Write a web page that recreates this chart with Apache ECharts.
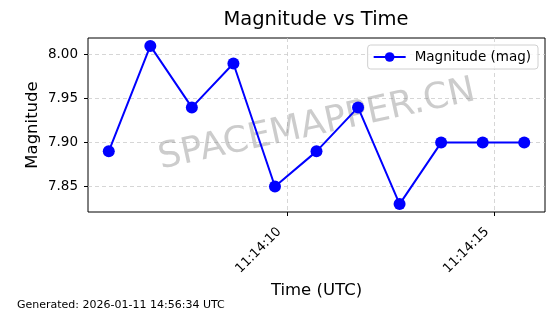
<!DOCTYPE html>
<html>
<head>
<meta charset="utf-8">
<script src="https://cdn.jsdelivr.net/npm/echarts@6/dist/echarts.min.js"></script>
<style>html,body{margin:0;padding:0;background:#fff;}#c{width:560px;height:314px;}</style>
</head>
<body>
<div id="c"></div>
<script>
// Data
const times = ['11:14:05.71','11:14:06.71','11:14:07.71','11:14:08.71','11:14:09.71','11:14:10.71','11:14:11.71','11:14:12.71','11:14:13.71','11:14:14.71','11:14:15.71'];
const magnitudes = [7.89, 8.01, 7.94, 7.99, 7.85, 7.89, 7.94, 7.83, 7.90, 7.90, 7.90];
const xTickLabels = ['11:14:10', '11:14:15'];
const yTickValues = [7.85, 7.90, 7.95, 8.00];

function toSec(s){ const p = s.split(':'); return (+p[0])*3600 + (+p[1])*60 + parseFloat(p[2]); }
function fmt(sec){ const r = Math.round(sec); const h = Math.floor(r/3600), m = Math.floor((r%3600)/60), s = r%60;
  const pad = v => String(v).padStart(2,'0'); return pad(h)+':'+pad(m)+':'+pad(s); }

const xs = times.map(toSec);
const xMinD = Math.min(...xs), xMaxD = Math.max(...xs), xPad = (xMaxD - xMinD)*0.05;
const yMinD = Math.min(...magnitudes), yMaxD = Math.max(...magnitudes), yPad = (yMaxD - yMinD)*0.05;
const xTickValues = xTickLabels.map(toSec);

const FONT = 'DejaVu Sans';
const chart = echarts.init(document.getElementById('c'), null, {renderer: 'canvas'});
chart.setOption({
  animation: false,
  backgroundColor: '#fff',
  grid: {left: 88, right: 15, top: 38, bottom: 102, show: true, borderColor: '#000', borderWidth: 1, backgroundColor: 'transparent'},
  legend: {
    right: 22, top: 45, orient: 'horizontal',
    backgroundColor: 'rgba(255,255,255,0.8)', borderColor: '#d0d0d0', borderWidth: 1, borderRadius: 3,
    padding: [5, 7, 5, 5], itemWidth: 32, itemHeight: 12,
    textStyle: {fontFamily: FONT, fontSize: 13.5, color: '#000', padding: [0, 0, 0, 4]},
    data: ['Magnitude (mag)']
  },
  xAxis: {
    type: 'value', min: xMinD - xPad, max: xMaxD + xPad,
    name: 'Time (UTC)', nameLocation: 'middle', nameGap: 70, nameMoveOverlap: false,
    nameTextStyle: {fontFamily: FONT, fontSize: 16.5, color: '#000'},
    axisLine: {show: false},
    axisTick: {show: true, length: 4, lineStyle: {color: '#000'}, customValues: xTickValues},
    axisLabel: {rotate: 45, fontFamily: FONT, fontSize: 13, color: '#000', margin: 10, padding: [0, 11, 0, 0],
      customValues: xTickValues, formatter: v => fmt(v)},
    splitLine: {show: true, lineStyle: {color: '#cccccc', type: [4, 3], width: 0.8}}
  },
  yAxis: {
    type: 'value', min: yMinD - yPad, max: yMaxD + yPad,
    name: 'Magnitude', nameLocation: 'middle', nameGap: 47, nameMoveOverlap: false,
    nameTextStyle: {fontFamily: FONT, fontSize: 16.5, color: '#000'},
    axisLine: {show: false},
    axisTick: {show: true, length: 4, lineStyle: {color: '#000'}, customValues: yTickValues},
    axisLabel: {fontFamily: FONT, fontSize: 13.5, color: '#000', margin: 10,
      customValues: yTickValues, formatter: v => v.toFixed(2)},
    splitLine: {show: true, lineStyle: {color: '#cccccc', type: [4, 3], width: 0.8}}
  },
  graphic: [
    {type: 'text', x: 316, y: 9.5, style: {text: 'Magnitude vs Time', fontFamily: FONT, fontSize: 19.5, fill: '#000', align: 'center', verticalAlign: 'top'}},
    {type: 'text', left: 17, top: 299.5, style: {text: 'Generated: 2026-01-11 14:56:34 UTC', fontFamily: FONT, fontSize: 11, fill: '#000'}},
    {type: 'text', x: 317, y: 125, rotation: 12.3 * Math.PI / 180, z: 1,
      style: {text: 'SPACEMAPPER.CN', fontFamily: FONT, fontSize: 36, fill: 'rgba(128,128,128,0.4)', align: 'center', verticalAlign: 'middle'}}
  ],
  series: [{
    name: 'Magnitude (mag)', type: 'line', z: 3,
    data: xs.map((x, i) => [x, magnitudes[i]]),
    symbol: 'circle', symbolSize: 12,
    lineStyle: {color: '#0000ff', width: 2},
    itemStyle: {color: '#0000ff'}
  }]
});
</script>
</body>
</html>
